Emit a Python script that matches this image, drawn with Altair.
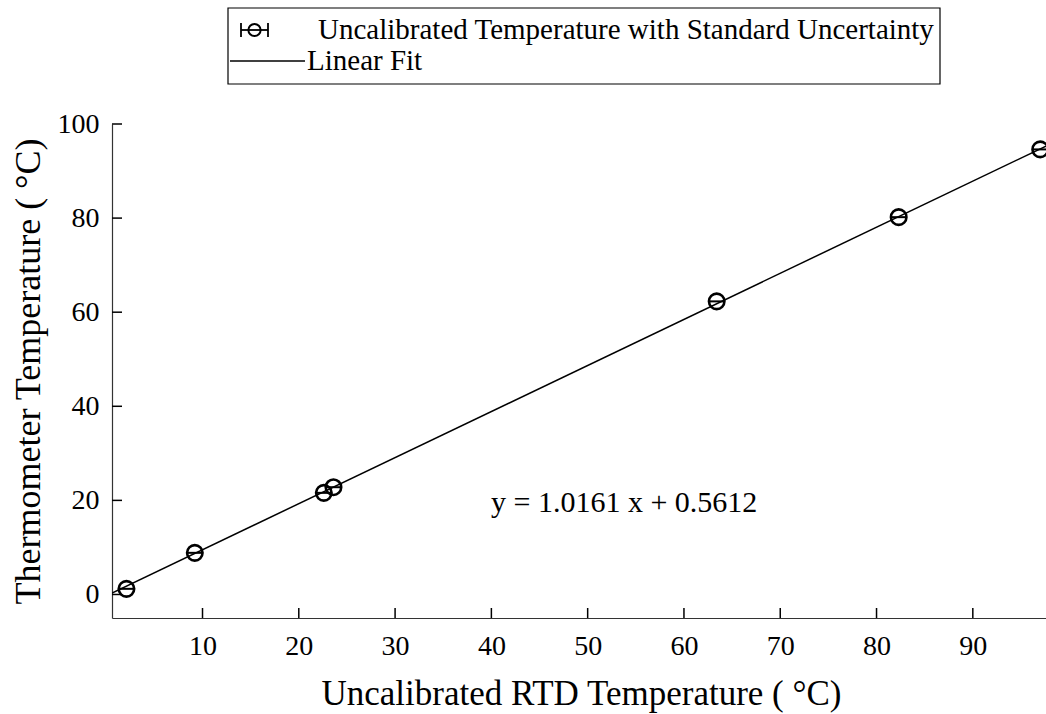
import altair as alt
import pandas as pd

# Data
rtd_x = [2.1, 9.2, 22.6, 23.6, 63.4, 82.3, 97.0]
thermo_y = [1.2, 8.85, 21.6, 22.8, 62.3, 80.2, 94.6]
std_unc = [0.8, 0.8, 0.8, 0.8, 0.8, 0.8, 0.8]

fit_x = [0.6, 97.6]
fit_y = [0.3, 95.3]

x_ticks = [10, 20, 30, 40, 50, 60, 70, 80, 90]
y_ticks = [0, 20, 40, 60, 80, 100]

x_domain = [0.6, 97.6]
y_domain = [-5, 100]

legend_labels = ["Uncalibrated Temperature with Standard Uncertainty", "Linear Fit"]
fit_label = "y = 1.0161 x + 0.5612"

W, H = 934, 494
FONT = "Liberation Serif"

pts = pd.DataFrame({"x": rtd_x, "y": thermo_y, "u": std_unc})
pts["lo"] = pts["x"] - pts["u"]
pts["hi"] = pts["x"] + pts["u"]
fit = pd.DataFrame({"x": fit_x, "y": fit_y})

xs = alt.Scale(domain=x_domain, nice=False, zero=False)
ys = alt.Scale(domain=y_domain, nice=False, zero=False)

x_axis = alt.Axis(
    values=x_ticks, ticks=False, tickSize=0, grid=False,
    labelFont=FONT, labelFontSize=28, labelColor="black", labelPadding=14,
    domainColor="#333333", domainWidth=1.2,
    title="Uncalibrated RTD Temperature ( °C)", titleFont=FONT, titleFontSize=35,
    titleFontWeight="normal", titleColor="black",
    titleX=469, titleY=75, titleBaseline="middle", titleAlign="center",
)
y_axis = alt.Axis(
    values=y_ticks, ticks=False, tickSize=0, grid=False,
    labelFont=FONT, labelFontSize=28, labelColor="black", labelPadding=13,
    domainColor="#333333", domainWidth=1.2,
    title="Thermometer Temperature ( °C)", titleFont=FONT, titleFontSize=36,
    titleFontWeight="normal", titleColor="black",
    titleX=-84, titleY=247, titleBaseline="middle", titleAlign="center", titleAngle=-90,
)

line = alt.Chart(fit).mark_line(color="black", strokeWidth=1.5, clip=True).encode(
    x=alt.X("x:Q", scale=xs, axis=x_axis),
    y=alt.Y("y:Q", scale=ys, axis=y_axis),
)

ebars = alt.Chart(pts).mark_rule(color="black", strokeWidth=2).encode(
    x=alt.X("lo:Q", scale=xs), x2="hi:Q", y=alt.Y("y:Q", scale=ys)
)

circles = alt.Chart(pts).mark_point(
    shape="circle", size=240, filled=False, color="black", strokeWidth=2.6, opacity=1
).encode(x=alt.X("x:Q", scale=xs), y=alt.Y("y:Q", scale=ys))

xt = alt.Chart(pd.DataFrame({"t": x_ticks})).mark_rule(color="black", strokeWidth=1.5).encode(
    x=alt.X("t:Q", scale=xs), y=alt.value(H), y2=alt.value(H - 10)
)
yt = alt.Chart(pd.DataFrame({"t": y_ticks})).mark_rule(color="black", strokeWidth=1.5).encode(
    y=alt.Y("t:Q", scale=ys), x=alt.value(0), x2=alt.value(10)
)

annot = alt.Chart(pd.DataFrame({"t": [fit_label]})).mark_text(
    font=FONT, fontSize=30, color="black", align="left", baseline="middle"
).encode(x=alt.value(379), y=alt.value(379), text="t:N")

one = alt.Data(values=[{"k": 1}])
leg_box = alt.Chart(one).mark_rect(fill="white", stroke="black", strokeWidth=1.2).encode(
    x=alt.value(116), x2=alt.value(828), y=alt.value(-116), y2=alt.value(-40)
)
leg_bar = alt.Chart(one).mark_rule(color="black", strokeWidth=1.8).encode(
    x=alt.value(129), x2=alt.value(156), y=alt.value(-94)
)
leg_cap1 = alt.Chart(one).mark_rule(color="black", strokeWidth=1.8).encode(
    x=alt.value(129), y=alt.value(-101), y2=alt.value(-87)
)
leg_cap2 = alt.Chart(one).mark_rule(color="black", strokeWidth=1.8).encode(
    x=alt.value(156), y=alt.value(-101), y2=alt.value(-87)
)
leg_circ = alt.Chart(one).mark_point(
    shape="circle", size=150, filled=False, color="black", strokeWidth=2, opacity=1
).encode(x=alt.value(142.5), y=alt.value(-94))
leg_t1 = alt.Chart(pd.DataFrame({"t": [legend_labels[0]]})).mark_text(
    font=FONT, fontSize=29, color="black", align="left", baseline="middle"
).encode(x=alt.value(206), y=alt.value(-94), text="t:N")
leg_line = alt.Chart(one).mark_rule(color="black", strokeWidth=1.5).encode(
    x=alt.value(118), x2=alt.value(193), y=alt.value(-63)
)
leg_t2 = alt.Chart(pd.DataFrame({"t": [legend_labels[1]]})).mark_text(
    font=FONT, fontSize=29, color="black", align="left", baseline="middle"
).encode(x=alt.value(195), y=alt.value(-63), text="t:N")

chart = alt.layer(
    line, ebars, circles, xt, yt, annot,
    leg_box, leg_bar, leg_cap1, leg_cap2, leg_circ, leg_t1, leg_line, leg_t2,
).properties(
    width=W, height=H,
    autosize=alt.AutoSizeParams(type="none"),
    padding={"left": 112, "top": 124, "right": 0, "bottom": 96},
    background="white",
).configure_view(stroke=None)

chart.save("out.html", embed_options={"renderer": "svg", "actions": False})
